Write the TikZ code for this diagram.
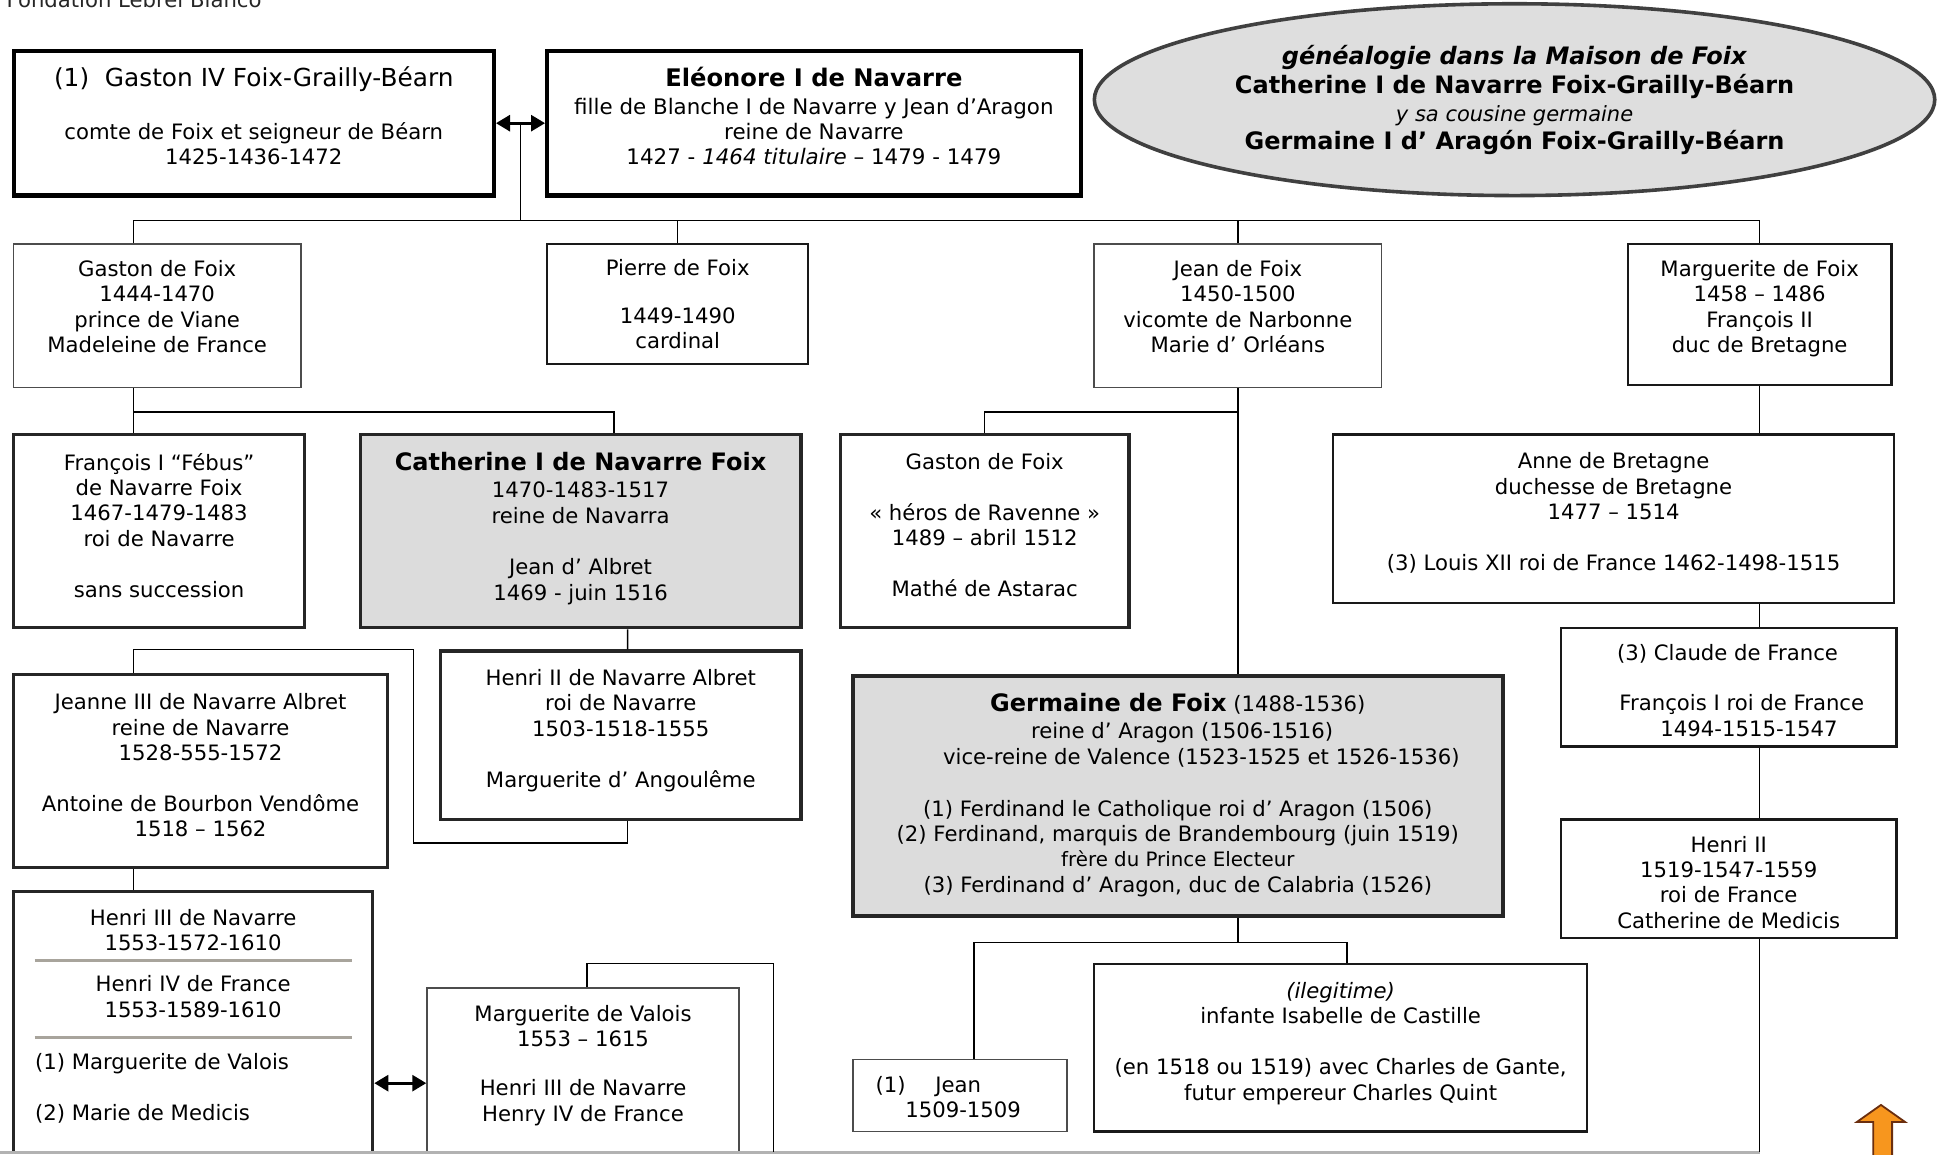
\documentclass[tikz,border=0pt]{standalone}
\usepackage{fontspec}
\setmainfont{DejaVu Sans}
\usetikzlibrary{fit,calc,arrows.meta,shapes.geometric}
\definecolor{boxgray}{HTML}{DCDCDC}
\definecolor{ellgray}{HTML}{DEDEDE}
\definecolor{rulegray}{HTML}{A8A49C}
\definecolor{orangefill}{HTML}{F7961E}
\definecolor{arrowbrown}{HTML}{6B2E0E}
\begin{document}
\begin{tikzpicture}[x=0.61894pt,y=-0.61894pt,
  conn/.style={line width=0.75pt, draw=black},
  bxA/.style={draw=black, line width=2.1pt, inner sep=0pt},
  bxB/.style={draw=black!85, line width=1.7pt, inner sep=0pt},
  bxC/.style={draw=black!90, line width=1.1pt, inner sep=0pt},
  bxD/.style={draw=black!70, line width=0.8pt, inner sep=0pt},
  txt/.style={anchor=mid, align=center, inner sep=0pt, yshift=-1.5pt, font=\fontsize{10.6}{12.7}\selectfont},
  txtl/.style={anchor=mid west, align=left, inner sep=0pt, yshift=-1.5pt, font=\fontsize{10.6}{12.7}\selectfont},
  dbl/.style={line width=1.4pt, {Triangle[length=7pt,width=8pt]}-{Triangle[length=7pt,width=8pt]}},
]
\useasboundingbox (0,0) rectangle (1568,933);

% header text
\node[anchor=base west, inner sep=0pt, font=\fontsize{10.6}{12.7}\selectfont, text=black!85] (fond) at (5,5.9) {Fondation Lebrel Blanco};

% boxes
\node[bxA, fit={(11,41) (399,158)}] (gaston4) {};
\node[bxA, fit={(442,41) (873,158)}] (eleonore) {};
\node[ellipse, draw=black!75, line width=1.8pt, fill=ellgray, minimum width=420.2pt, minimum height=95.9pt, inner sep=0pt] (title) at (1223.5,80.5) {};
\node[bxD, fit={(11,197) (243,313)}] (gdf) {};
\node[bxC, fit={(442,197) (653,294)}] (pierre) {};
\node[bxD, fit={(884,197) (1116,313)}] (jean) {};
\node[bxC, fit={(1315,197) (1528,311)}] (marg) {};
\node[bxB, fit={(11,351) (246,507)}] (fran) {};
\node[bxB, fill=boxgray, fit={(291,351) (647,507)}] (cath) {};
\node[bxB, fit={(679,351) (912,507)}] (gas2) {};
\node[bxC, fit={(1077,351) (1530,487)}] (anne) {};
\node[bxC, fit={(1261,507) (1532,603)}] (claude) {};
\node[bxC, fit={(1261,662) (1532,758)}] (henri2) {};
\node[bxB, fit={(356,526) (647,662)}] (hn2) {};
\node[bxB, fit={(11,545) (313,701)}] (jeanne) {};
\node[bxB, fit={(11,720) (301,931)}] (h3) {};
\node[bxD, fit={(345,798) (597,931)}] (mv) {};
\node[bxB, fill=boxgray, fit={(689,546) (1214,740)}] (germ) {};
\node[bxD, fit={(689,856) (862,914)}] (jean1) {};
\node[bxC, fit={(884,779) (1282,914)}] (ileg) {};

% texts (anchored on their last line)
\node[txt, font=\fontsize{10.6}{12.4}\selectfont] (gaston4-t) at (205,126)
 {{\fontsize{12.4}{14}\selectfont (1)\ \ Gaston IV Foix-Grailly-Béarn}\\[14.2pt]
  comte de Foix et seigneur de Béarn\\ 1425-1436-1472};
\node[txt, font=\fontsize{10.7}{12.4}\selectfont] (eleonore-t) at (657.5,126)
 {{\fontsize{12.1}{14}\selectfont\bfseries Eléonore I de Navarre}\\[1.9pt]
  fille de Blanche I de Navarre y Jean d’Aragon\\ reine de Navarre\\
  1427 - \textit{1464 titulaire} – 1479 - 1479};
\node[txt, yshift=-0.8pt, font=\fontsize{12}{14.2}\selectfont] (title-t) at (1223.5,113)
 {\textbf{\textit{généalogie dans la Maison de Foix}}\\
  \textbf{Catherine I de Navarre Foix-Grailly-Béarn}\\
  {\fontsize{10.5}{14.2}\selectfont\textit{y sa cousine germaine}}\\
  \textbf{Germaine I d’ Aragón Foix-Grailly-Béarn}};
\node[txt] (gdf-t) at (127,278) {Gaston de Foix\\ 1444-1470\\ prince de Viane\\ Madeleine de France};
\node[txt] (pierre-t) at (547.5,275) {Pierre de Foix\\[11.4pt] 1449-1490\\ cardinal};
\node[txt] (jean-t) at (1000,278) {Jean de Foix\\ 1450-1500\\ vicomte de Narbonne\\ Marie d’ Orléans};
\node[txt] (marg-t) at (1421.5,278) {Marguerite de Foix\\ 1458 – 1486\\ François II\\ duc de Bretagne};
\node[txt] (fran-t) at (128.5,476) {François I “Fébus”\\ de Navarre Foix\\ 1467-1479-1483\\ roi de Navarre\\[13pt] sans succession};
\node[txt] (cath-t) at (469,478)
 {{\fontsize{12}{14}\selectfont\bfseries Catherine I de Navarre Foix}\\[0.9pt]
  1470-1483-1517\\ reine de Navarra\\[13pt] Jean d’ Albret\\ 1469 - juin 1516};
\node[txt] (gas2-t) at (795.5,475) {Gaston de Foix\\[12.7pt] « héros de Ravenne »\\ 1489 – abril 1512\\[12.7pt] Mathé de Astarac};
\node[txt] (anne-t) at (1303.5,454) {Anne de Bretagne\\ duchesse de Bretagne\\ 1477 – 1514\\[12.7pt] (3) Louis XII roi de France 1462-1498-1515};
\node[txtl] (claude-t) at (1306,588) {(3) Claude de France\\[12.7pt]\hspace*{1.2pt}François I roi de France\\ \hspace*{21.7pt}1494-1515-1547};
\node[txt] (henri2-t) at (1396.5,743) {Henri II\\ 1519-1547-1559\\ roi de France\\ Catherine de Medicis};
\node[txt] (hn2-t) at (501.5,629) {Henri II de Navarre Albret\\ roi de Navarre\\ 1503-1518-1555\\[12.7pt] Marguerite d’ Angoulême};
\node[txt] (jeanne-t) at (162,669) {Jeanne III de Navarre Albret\\ reine de Navarre\\ 1528-555-1572\\[12.7pt] Antoine de Bourbon Vendôme\\ 1518 – 1562};
\node[txt] (h3-t1) at (156,761) {Henri III de Navarre\\ 1553-1572-1610};
\node[txt] (h3-t2) at (156,815) {Henri IV de France\\ 1553-1589-1610};
\node[txtl] (h3-t3) at (28,898) {(1) Marguerite de Valois\\[12.7pt] (2) Marie de Medicis};
\node[txt] (mv-t) at (471,899) {Marguerite de Valois\\ 1553 – 1615\\[12pt] Henri III de Navarre\\ Henry IV de France};
\node[txt] (germ-t) at (951.5,714)
 {{\fontsize{12}{14}\selectfont\bfseries Germaine de Foix} (1488-1536)\\[0.9pt]
  \hspace*{4.3pt}reine d’ Aragon (1506-1516)\\
  \hspace*{23.5pt}vice-reine de Valence (1523-1525 et 1526-1536)\\[13.3pt]
  (1) Ferdinand le Catholique roi d’ Aragon (1506)\\
  (2) Ferdinand, marquis de Brandembourg (juin 1519)\\
  {\fontsize{9.9}{12.4}\selectfont frère du Prince Electeur}\\
  (3) Ferdinand d’ Aragon, duc de Calabria (1526)};
\node[txtl] (jean1-t) at (707,896) {(1)\hspace{14.9pt}Jean\\ \hspace*{14.9pt}1509-1509};
\node[txt] (ileg-t) at (1083,882) {\textit{(ilegitime)}\\ infante Isabelle de Castille\\[13pt] (en 1518 ou 1519) avec Charles de Gante,\\ futur empereur Charles Quint};

% rules inside Henri III box
\draw[line width=1.5pt, draw=rulegray] (28,776) -- (284,776);
\draw[line width=1.5pt, draw=rulegray] (28,838) -- (284,838);

% bottom line
\draw[line width=1.2pt, draw=black!30] (0,931) -- (1422,931);

% connectors
\coordinate (m1) at ($(gaston4.east)!0.5!(eleonore.west)$);
\draw[dbl] (gaston4.east) -- (eleonore.west);
\coordinate (bus1) at ($(m1)+(0,78.5)$);
\draw[conn] (m1) -- (bus1);
\draw[conn] ($(gdf.north)+(-19,0)$) |- (bus1) -| (marg.north);
\draw[conn] (pierre.north) -- (pierre.north |- bus1);
\draw[conn] (jean.north) -- (jean.north |- bus1);

\draw[conn] ($(gdf.south)+(-19,0)$) -- ($(fran.north)+(-20.5,0)$);
\draw[conn] ($(gdf.south)+(-19,0)$) -- ++(0,19) -| ($(cath.north)+(27,0)$);

\draw[conn] (jean.south) -- (jean.south |- germ.north);
\draw[conn] (jean.south) ++(0,19) -| (gas2.north);

\coordinate (pagebot) at (0,931);
\draw[conn] (marg.south) -- (marg.south |- anne.north);
\draw[conn] (marg.south |- anne.south) -- (marg.south |- claude.north);
\draw[conn] (marg.south |- claude.south) -- (marg.south |- henri2.north);
\draw[conn] (marg.south |- henri2.south) -- (marg.south |- pagebot);

\draw[conn] ($(cath.south)+(38,0)$) -- ($(hn2.north)+(5.5,0)$);
\coordinate (c1) at (334,681);
\draw[conn] ($(hn2.south)+(5.5,0)$) |- (c1) |- ($(jeanne.north)+(-54,-19)$) -- ($(jeanne.north)+(-54,0)$);
\draw[conn] ($(jeanne.south)+(-54,0)$) -- ($(h3.north)+(-48,0)$);
\coordinate (ay) at (0,875);
\draw[dbl] (h3.east |- ay) -- (mv.west |- ay);
\coordinate (c2) at (625,931);
\draw[conn] ($(mv.north)+(3,0)$) -- ++(0,-19) -| (c2);

\draw[conn] (germ.south -| jean.south) -- ++(0,20) -| ($(jean1.north)+(11.5,0)$);
\draw[conn] (germ.south -| jean.south) ++(0,20) -| ($(ileg.north)+(5,0)$);

% orange arrow
\filldraw[fill=orangefill, draw=arrowbrown, line width=0.9pt, line join=miter]
  (1513.2,936) -- (1513.2,906.3) -- (1500.1,906.3) -- (1519.5,892.6) -- (1538.9,906.3)
  -- (1528.5,906.3) -- (1528.5,936) -- cycle;
\end{tikzpicture}
\end{document}
